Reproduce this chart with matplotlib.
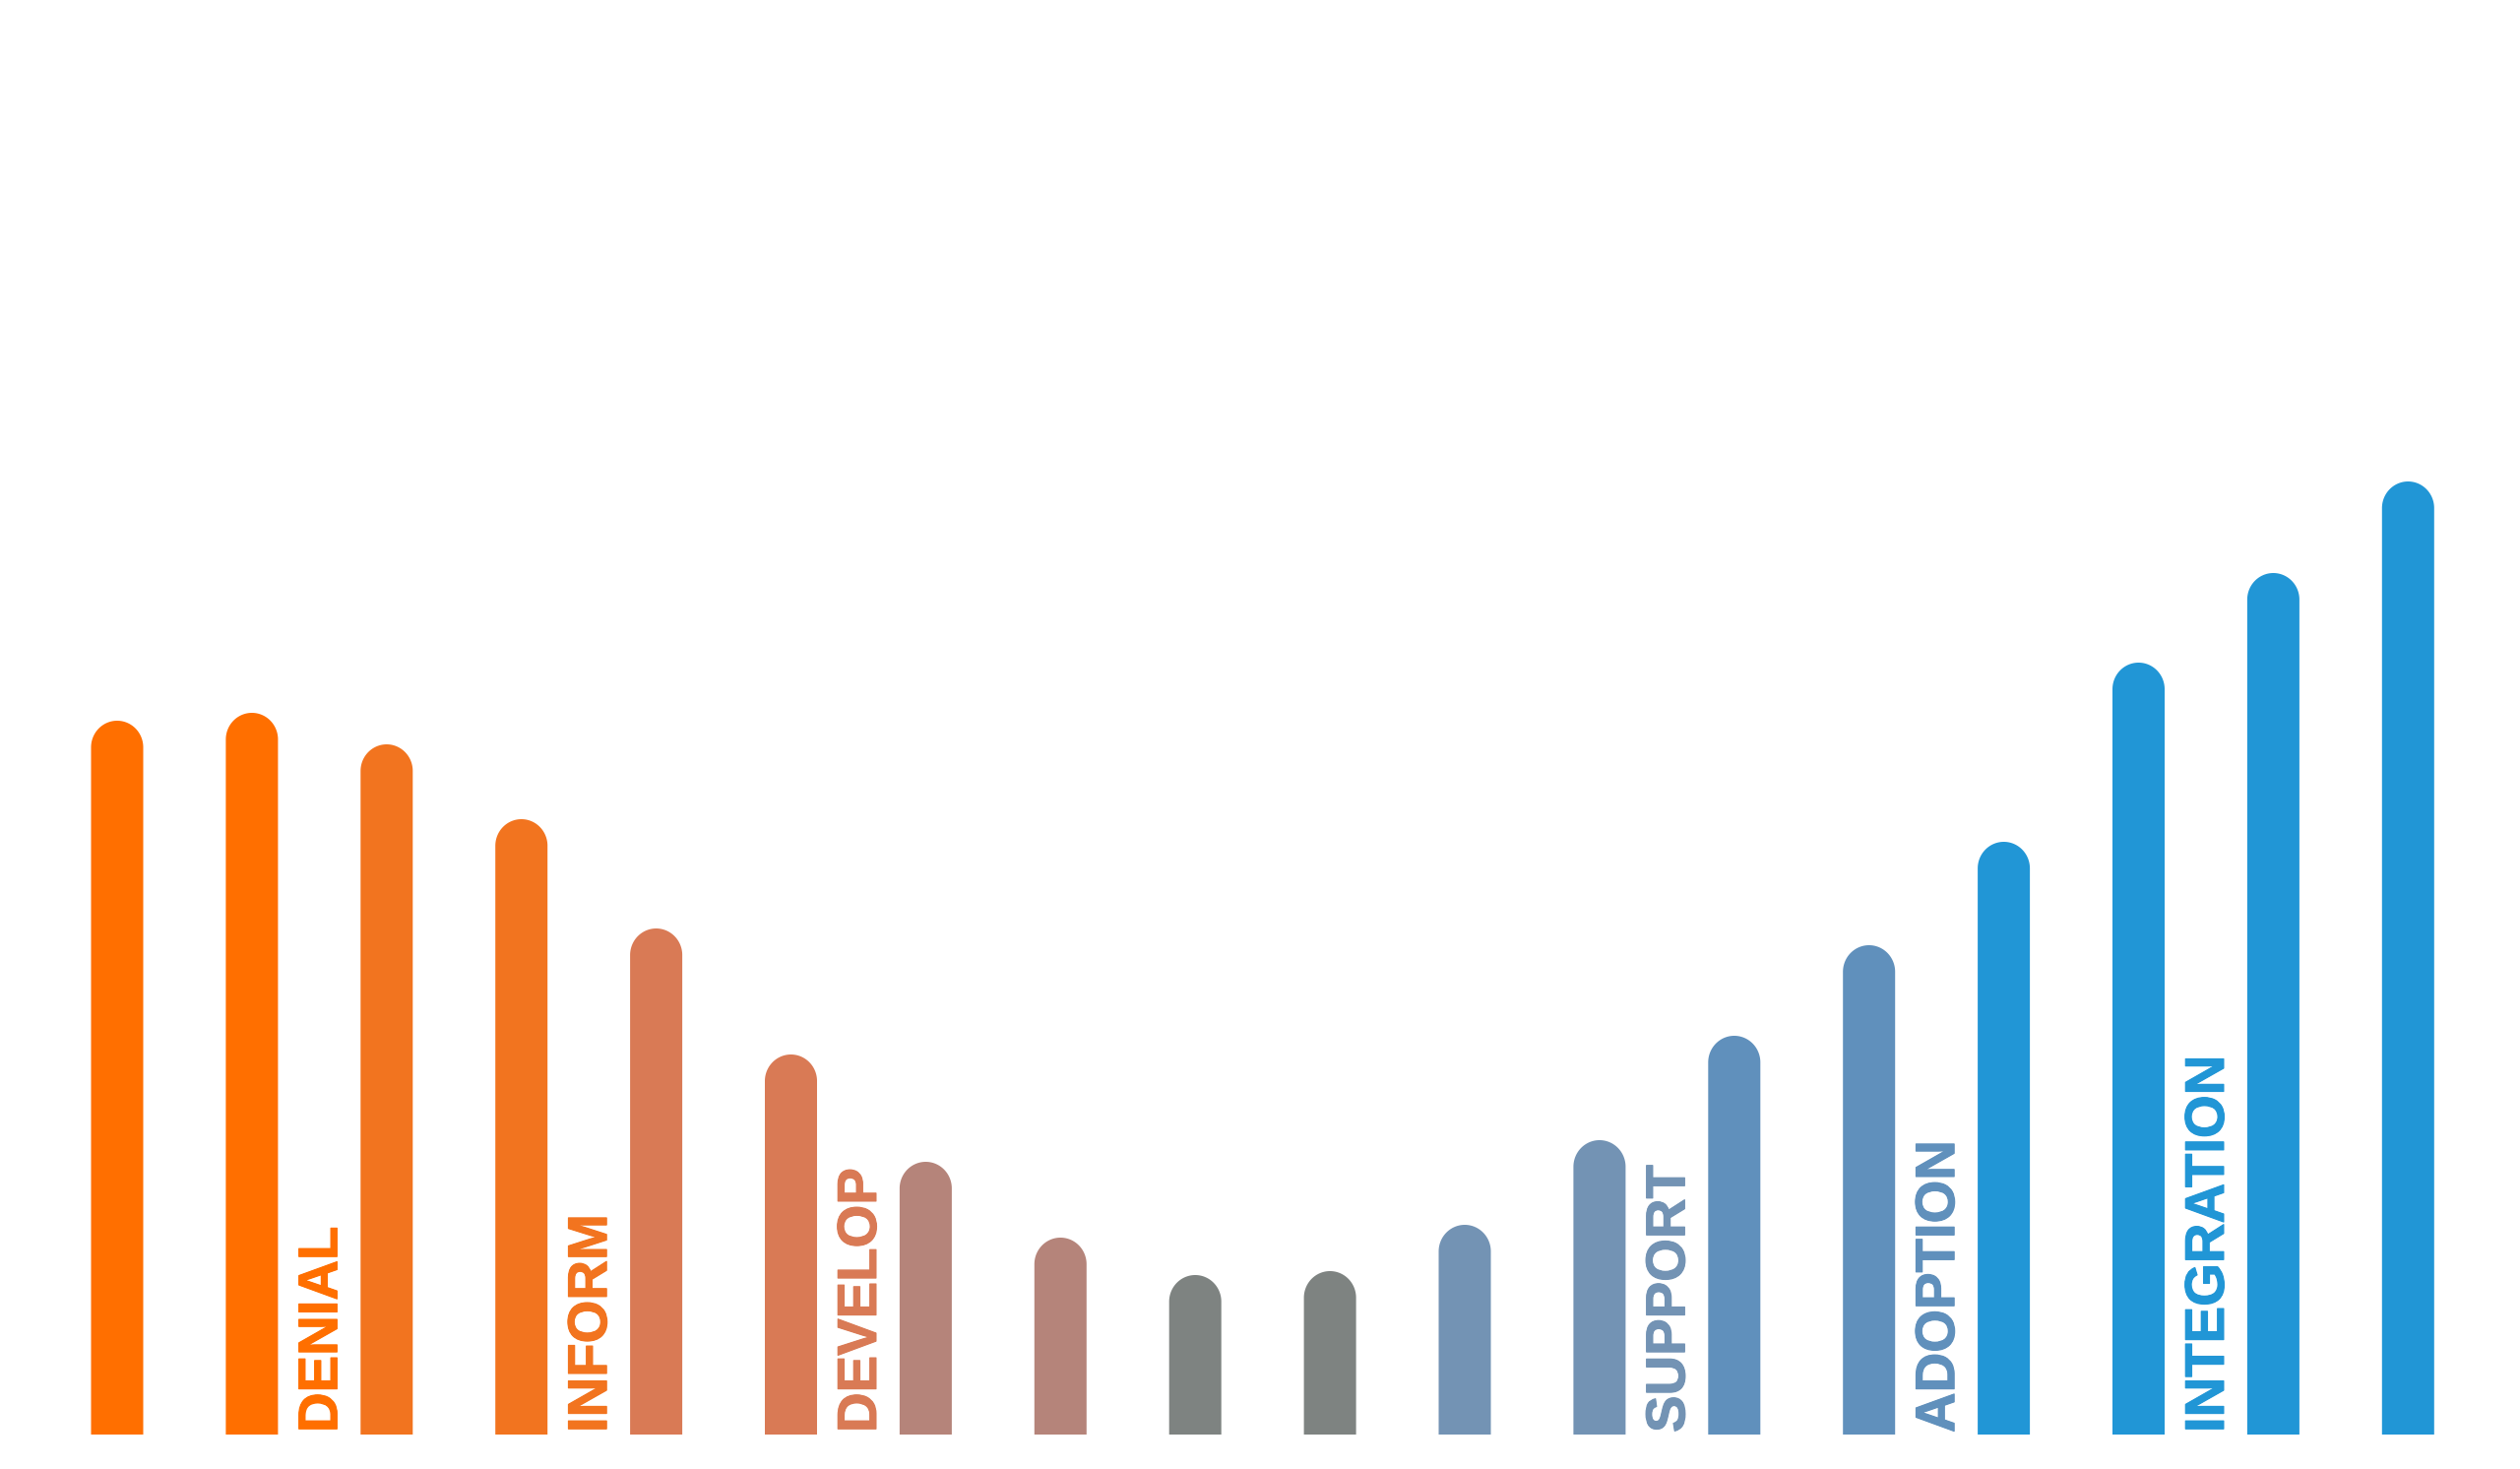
import matplotlib
matplotlib.use("Agg")
import numpy as np
import matplotlib.pyplot as plt
import matplotlib.patheffects as pe

# Data (heights in arbitrary units)
values = [725, 733, 701, 625, 514, 386, 277, 200, 162, 166, 213, 299, 405, 497, 602, 784, 875, 968]
colors = ["#FF6F00", "#FF6F00", "#F2741F", "#F2741F", "#D97A55", "#D97A55",
          "#B5847A", "#B5847A", "#7E8381", "#7E8381", "#7393B4", "#7393B4",
          "#6090BC", "#6090BC", "#2196D6", "#2196D6", "#2196D6", "#2196D6"]
stage_labels = ["DENIAL", "INFORM", "DEVELOP", "SUPPORT", "ADOPTION", "INTEGRATION"]
stage_after_bar = [1, 3, 5, 11, 13, 15]
stage_colors = ["#FF6F00", "#F2741F", "#D97A55", "#7393B4", "#6090BC", "#2196D6"]

W, H = 2560, 1492
fig = plt.figure(figsize=(W / 100, H / 100), dpi=100)
bottom_px = 35
ax = fig.add_axes([0, bottom_px / H, 1, (H - bottom_px) / H])
spacing_px = 136.9
first_px = 119
ax.set_xlim(-first_px / spacing_px, (W - first_px) / spacing_px)
ax.set_ylim(0, H - bottom_px)
ax.axis("off")

bar_w = 53 / spacing_px
cap_h = 54
xs = list(range(len(values)))
t = np.linspace(np.pi, 0, 90)
for x, v, c in zip(xs, values, colors):
    base = v - cap_h / 2
    px = np.concatenate([[x - bar_w / 2], x + (bar_w / 2) * np.cos(t), [x + bar_w / 2]])
    py = np.concatenate([[0], base + (cap_h / 2) * np.sin(t), [0]])
    ax.fill(px, py, facecolor=c, edgecolor="none", linewidth=0)

for lab, i, c in zip(stage_labels, stage_after_bar, stage_colors):
    ax.text(i + 0.5 + 18 / spacing_px, 2, lab, rotation=90, rotation_mode="anchor",
            ha="left", va="baseline",
            color=c, fontsize=40.5, fontweight="bold", family="Liberation Sans",
            path_effects=[pe.withStroke(linewidth=0.8, foreground=c)])

fig.savefig("out.png", dpi=100, facecolor="white")
